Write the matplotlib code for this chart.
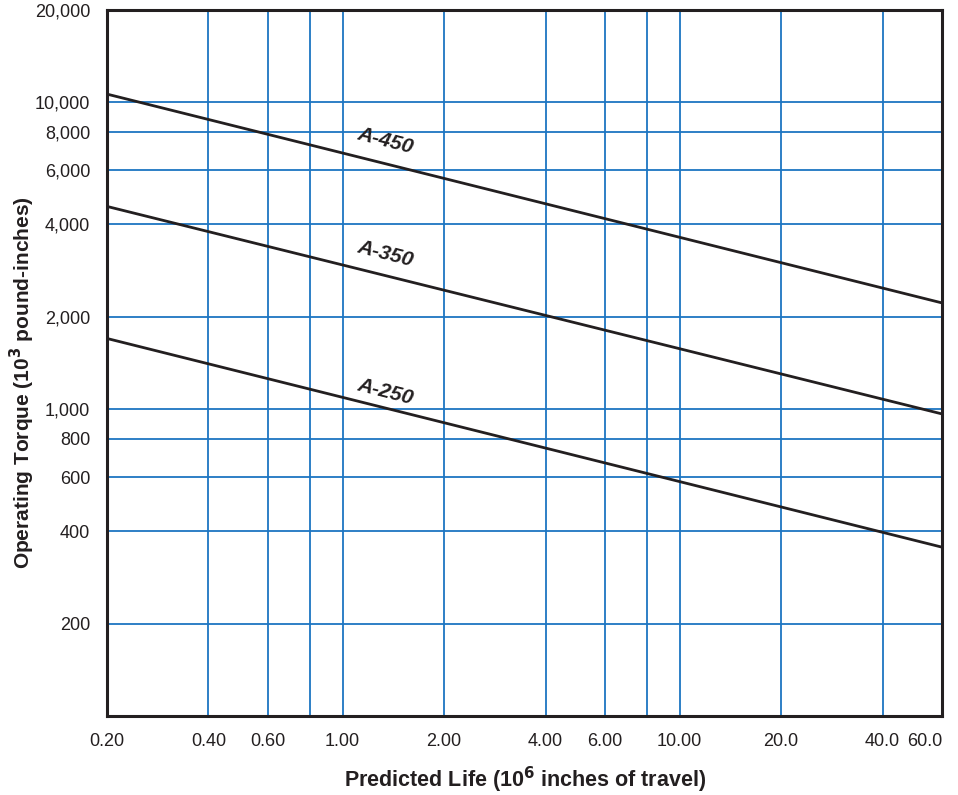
import matplotlib.pyplot as plt
from matplotlib.ticker import FixedLocator, NullLocator

plt.rcParams['font.family'] = ['Liberation Sans', 'DejaVu Sans']

# predicted life (10^6 inches of travel), end points of each line
life = [0.2, 60.0]
a450 = [10640, 2220]
a350 = [4580, 965]
a250 = [1700, 355]

names = ['A-450', 'A-350', 'A-250']
label_pos = [(1.34, 7470), (1.34, 3200), (1.34, 1136)]

x_ticks = [0.2, 0.4, 0.6, 0.8, 1.0, 2.0, 4.0, 6.0, 8.0, 10.0, 20.0, 40.0, 60.0]
x_labels = ['0.20', '0.40', '0.60', '', '1.00', '2.00', '4.00', '6.00', '',
            '10.00', '20.0', '40.0', '60.0']
y_ticks = [200, 400, 600, 800, 1000, 2000, 4000, 6000, 8000, 10000, 20000]
y_labels = ['200', '400', '600', '800', '1,000', '2,000', '4,000', '6,000',
            '8,000', '10,000', '20,000']

grid_color = '#1c75c2'
text_color = '#231f20'

fig = plt.figure(figsize=(9.58, 7.95), dpi=100)
ax = fig.add_axes([0.1117, 0.0994, 0.8716, 0.888])
ax.set_xscale('log')
ax.set_yscale('log')
ax.set_xlim(0.2, 60)
ax.set_ylim(100, 20000)

ax.xaxis.set_major_locator(FixedLocator(x_ticks))
ax.xaxis.set_minor_locator(NullLocator())
ax.set_xticklabels(x_labels)
ax.yaxis.set_major_locator(FixedLocator(y_ticks))
ax.yaxis.set_minor_locator(NullLocator())
ax.set_yticklabels(y_labels)
ax.tick_params(length=0, labelsize=13, labelcolor=text_color)
ax.tick_params(axis='x', pad=12)
ax.tick_params(axis='y', pad=12)
ax.get_xticklabels()[-1].set_horizontalalignment('right')

ax.grid(True, color=grid_color, linewidth=1.3)
ax.set_axisbelow(True)

for s in ax.spines.values():
    s.set_linewidth(2.2)
    s.set_color(text_color)
    s.set_zorder(5)

for ys in (a450, a350, a250):
    ax.plot(life, ys, color=text_color, linewidth=2.0, solid_capstyle='butt')

for name, (lx, ly) in zip(names, label_pos):
    ax.text(lx, ly, name, rotation=-14.5, rotation_mode='anchor',
            ha='center', va='center', fontsize=15, fontweight='bold',
            fontstyle='italic', color=text_color)

fig.text(525 / 958, 1 - 780 / 795,
         'Predicted Life (10$^\\mathbf{6}$ inches of travel)', fontsize=15.5,
         fontweight='bold', color=text_color, ha='center', va='center')
fig.text(22 / 958, 1 - 383 / 795,
         'Operating Torque (10$^\\mathbf{3}$ pound-inches)', fontsize=15,
         fontweight='bold', color=text_color, ha='center', va='center',
         rotation=90)

fig.savefig('out.png', dpi=100)
